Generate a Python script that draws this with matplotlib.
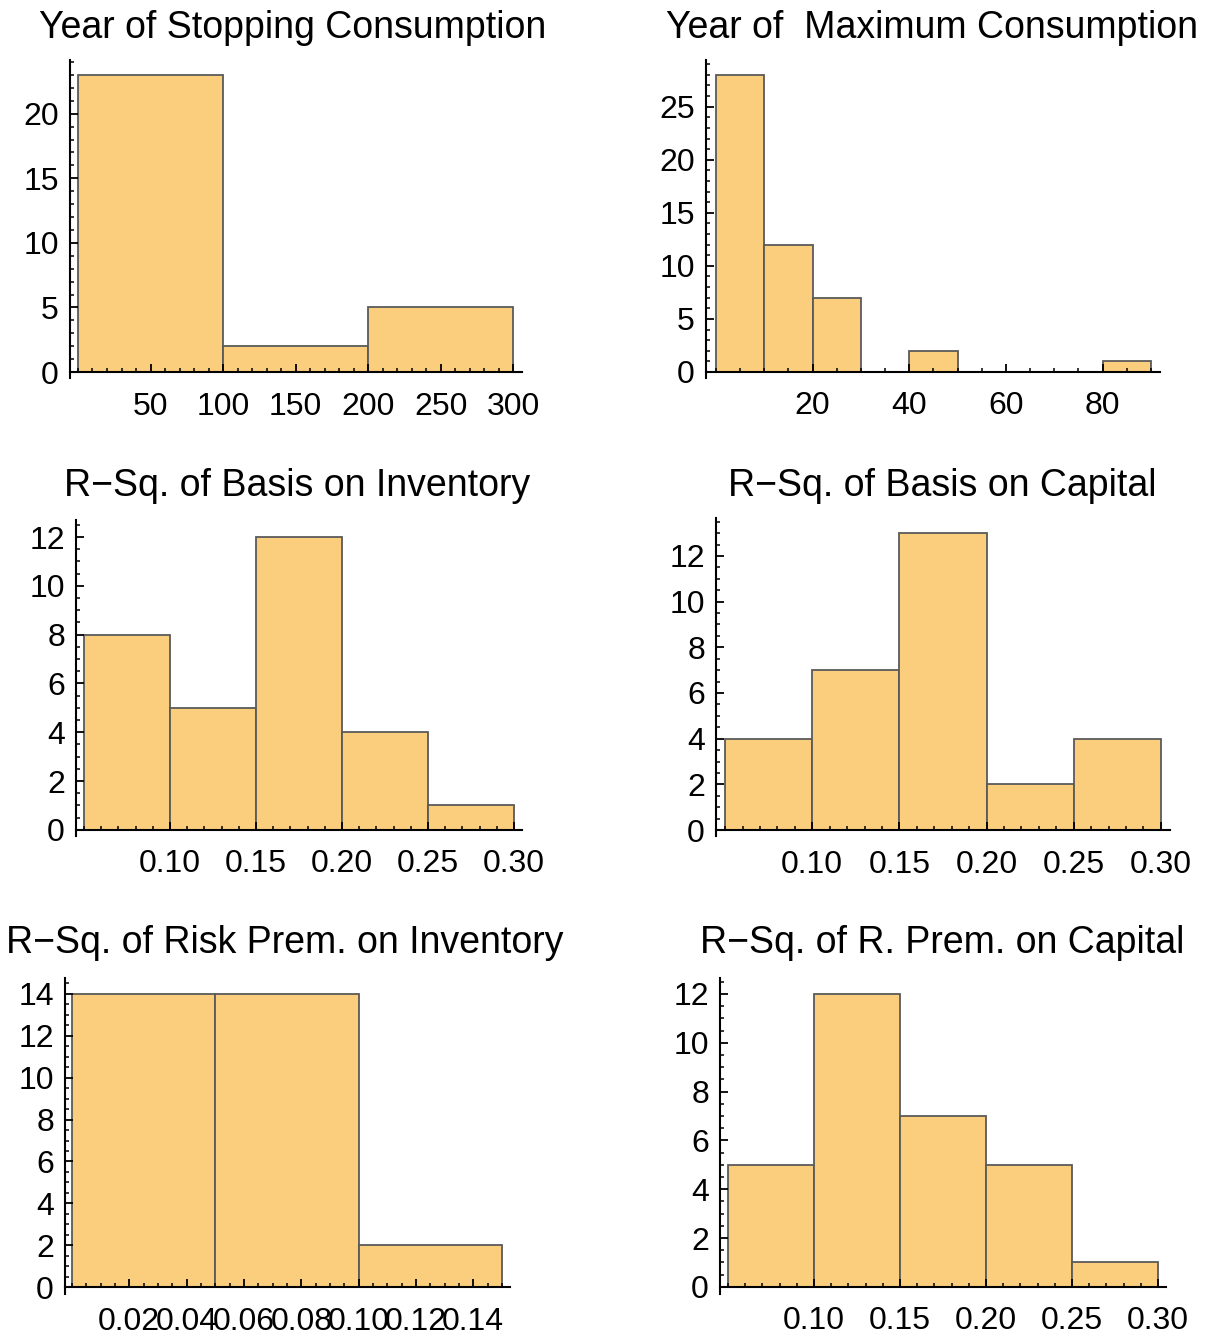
import matplotlib
matplotlib.use("Agg")
import matplotlib.pyplot as plt
from matplotlib.ticker import MultipleLocator, FixedLocator

plt.rcParams["font.family"] = ["Liberation Sans", "DejaVu Sans"]

W, H = 1210, 1338

titles = [
    "Year of Stopping Consumption",
    "Year of  Maximum Consumption",
    "R\u2212Sq. of Basis on Inventory",
    "R\u2212Sq. of Basis on Capital",
    "R\u2212Sq. of Risk Prem. on Inventory",
    "R\u2212Sq. of R. Prem. on Capital",
]

# bin edges and counts for each histogram
stop_edges = [0, 100, 200, 300]
stop_counts = [23, 2, 5]
max_edges = [0, 10, 20, 30, 40, 50, 60, 70, 80, 90]
max_counts = [28, 12, 7, 0, 2, 0, 0, 0, 1]
basis_inv_edges = [0.05, 0.10, 0.15, 0.20, 0.25, 0.30]
basis_inv_counts = [8, 5, 12, 4, 1]
basis_cap_edges = [0.05, 0.10, 0.15, 0.20, 0.25, 0.30]
basis_cap_counts = [4, 7, 13, 2, 4]
prem_inv_edges = [0.0, 0.05, 0.10, 0.15]
prem_inv_counts = [14, 14, 2]
prem_cap_edges = [0.05, 0.10, 0.15, 0.20, 0.25, 0.30]
prem_cap_counts = [5, 12, 7, 5, 1]

# labelled ticks
stop_xticks = [50, 100, 150, 200, 250, 300]
max_xticks = [20, 40, 60, 80]
rsq_xticks = [0.10, 0.15, 0.20, 0.25, 0.30]
prem_xticks = [0.02, 0.04, 0.06, 0.08, 0.10, 0.12, 0.14]
stop_yticks = [0, 5, 10, 15, 20]
max_yticks = [0, 5, 10, 15, 20, 25]
even_yticks = [0, 2, 4, 6, 8, 10, 12]
prem_yticks = [0, 2, 4, 6, 8, 10, 12, 14]

panels = [
    # edges, counts, xticks, xfmt, minor x, yticks, minor y, xlim, ylim, pixel box (l, r, top, bottom), title centre
    (stop_edges, stop_counts, stop_xticks, "{:.0f}", 10, stop_yticks, 1,
     (-5.5, 306), (-0.46, 24.16), (70, 522, 60, 378), (293, 28)),
    (max_edges, max_counts, max_xticks, "{:.0f}", 5, max_yticks, 1,
     (-2.07, 91.9), (-0.57, 29.4), (706, 1160, 60, 378), (932, 28)),
    (basis_inv_edges, basis_inv_counts, rsq_xticks, "{:.2f}", 0.01, even_yticks, 0.5,
     (0.0453, 0.3047), (-0.25, 12.7), (76, 522, 520, 836), (297, 486)),
    (basis_cap_edges, basis_cap_counts, rsq_xticks, "{:.2f}", 0.01, even_yticks, 0.5,
     (0.0448, 0.3052), (-0.26, 13.66), (716, 1170, 518, 836), (942, 486)),
    (prem_inv_edges, prem_inv_counts, prem_xticks, "{:.2f}", 0.005, prem_yticks, 0.5,
     (-0.0024, 0.1528), (-0.33, 14.76), (65, 510, 978, 1294), (285, 943)),
    (prem_cap_edges, prem_cap_counts, rsq_xticks, "{:.2f}", 0.01, even_yticks, 0.5,
     (0.0453, 0.3047), (-0.29, 12.65), (720, 1166, 978, 1294), (942, 943)),
]

fig = plt.figure(figsize=(W / 100, H / 100), dpi=100)

for title, (edges, counts, xt, xfmt, xminor, yt, yminor, xlim, ylim, box, tpos) in zip(titles, panels):
    l, r, t, b = box
    ax = fig.add_axes([l / W, 1 - b / H, (r - l) / W, (b - t) / H])
    widths = [edges[i + 1] - edges[i] for i in range(len(counts))]
    ax.bar(edges[:-1], counts, width=widths, align="edge", color="#fbce7e",
           edgecolor="#5a5a5a", linewidth=1.3, zorder=1)
    ax.set_xlim(*xlim)
    ax.set_ylim(*ylim)

    for side in ("top", "right"):
        ax.spines[side].set_visible(False)
    ax.spines["bottom"].set_position(("data", 0))
    for side in ("left", "bottom"):
        ax.spines[side].set_linewidth(1.5)
        ax.spines[side].set_zorder(3)

    ax.xaxis.set_major_locator(FixedLocator(xt))
    ax.set_xticklabels([xfmt.format(v) for v in xt])
    ax.xaxis.set_minor_locator(MultipleLocator(xminor))
    ax.yaxis.set_major_locator(FixedLocator(yt))
    ax.set_yticklabels([str(v) for v in yt])
    ax.yaxis.set_minor_locator(MultipleLocator(yminor))

    ax.tick_params(axis="both", which="major", direction="in", length=6, width=1.3,
                   labelsize=23, zorder=4)
    ax.tick_params(axis="both", which="minor", direction="in", length=3, width=1.1)
    ax.tick_params(axis="x", which="major", pad=14)
    ax.tick_params(axis="y", which="major", pad=8)

    fig.text(tpos[0] / W, 1 - tpos[1] / H, title, ha="center", va="center", fontsize=27)

fig.savefig("out.png", dpi=100)
